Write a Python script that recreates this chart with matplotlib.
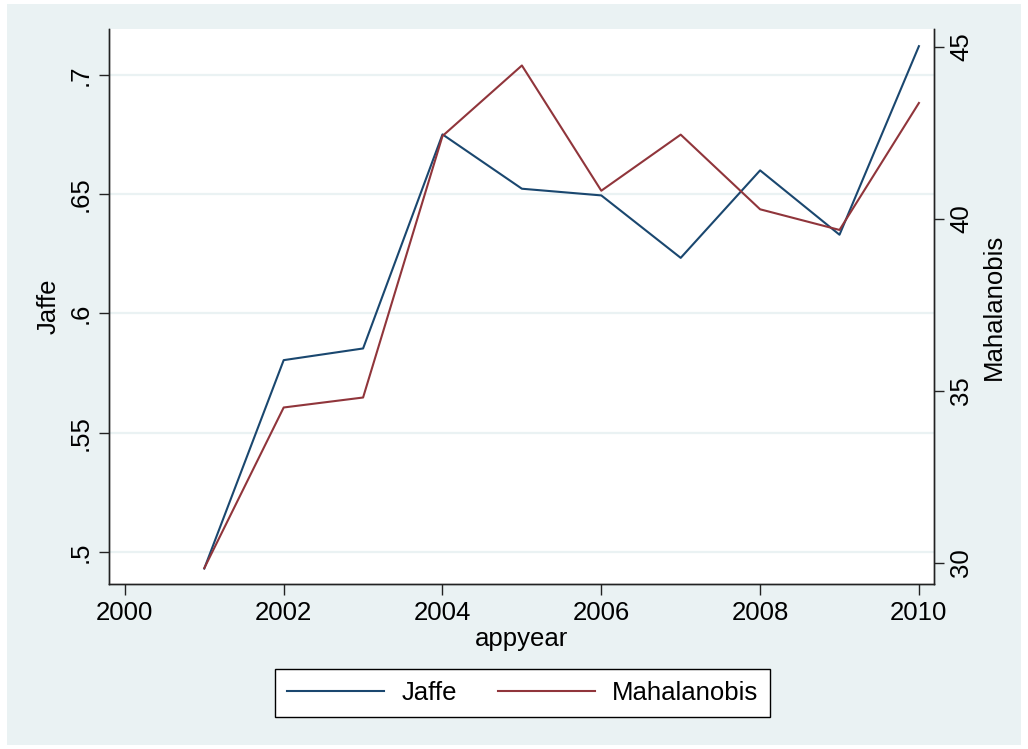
import numpy as np
import matplotlib
matplotlib.use("Agg")
import matplotlib.pyplot as plt
from matplotlib.patches import Rectangle

# data
years = [2001, 2002, 2003, 2004, 2005, 2006, 2007, 2008, 2009, 2010]
jaffe = [0.4930, 0.5804, 0.5853, 0.6751, 0.6523, 0.6495, 0.6233, 0.6600, 0.6330, 0.7121]
mahalanobis = [29.84, 34.51, 34.80, 42.40, 44.45, 40.81, 42.44, 40.27, 39.67, 43.36]

x_ticks = [2000, 2002, 2004, 2006, 2008, 2010]
left_ticks = [0.5, 0.55, 0.6, 0.65, 0.7]
left_labels = ['.5', '.55', '.6', '.65', '.7']
right_ticks = [30, 35, 40, 45]

navy = '#1a476f'
maroon = '#90353b'
bg = '#eaf2f3'

plt.rcParams['font.family'] = ['Liberation Sans', 'DejaVu Sans']
fs = 18.5

W, H = 1028, 749
fig = plt.figure(figsize=(W / 100, H / 100), dpi=100)
fig.patch.set_facecolor('white')
fig.patches.append(Rectangle((7 / W, 4 / H), (1021 - 7) / W, (745 - 4) / H,
                             transform=fig.transFigure, facecolor=bg,
                             edgecolor='none', zorder=-10))

ax = fig.add_axes([109 / W, 1 - 584 / H, (934 - 109) / W, (584 - 29) / H])
ax.set_facecolor('white')
ax2 = ax.twinx()

l1, = ax.plot(years, jaffe, color=navy, lw=1.5, label='Jaffe')
l2, = ax2.plot(years, mahalanobis, color=maroon, lw=1.5, label='Mahalanobis')

ax.set_xlim(1999.8, 2010.19)
ax.set_ylim(0.4865, 0.7193)
ax2.set_ylim(29.38, 45.51)

ax.set_xticks(x_ticks)
ax.set_xticklabels([str(v) for v in x_ticks], fontsize=fs)
ax.set_yticks(left_ticks)
ax.set_yticklabels(left_labels, fontsize=fs, rotation=90, va='center')
ax2.set_yticks(right_ticks)
ax2.set_yticklabels([str(v) for v in right_ticks], fontsize=fs, rotation=90, va='center')

ax.grid(axis='y', color=bg, lw=1.6)
ax.set_axisbelow(True)

for a in (ax, ax2):
    a.spines['top'].set_visible(False)
    for s in ('left', 'right', 'bottom'):
        a.spines[s].set_linewidth(1.0)
        a.spines[s].set_color('#222222')
ax.tick_params(axis='x', length=8, width=1, pad=4, color='#222222')
ax.tick_params(axis='y', length=7.5, width=1, pad=4, color='#222222')
ax2.tick_params(axis='y', length=7, width=1, pad=4, color='#222222')

ax.set_xlabel('appyear', fontsize=fs, labelpad=2)
ax.set_ylabel('Jaffe', fontsize=fs, labelpad=6)
ax2.set_ylabel('Mahalanobis', fontsize=fs, labelpad=6)

leg = fig.legend(handles=[l1, l2], loc='center', ncol=2,
                 bbox_to_anchor=(522.6 / W, 1 - 693 / H), fontsize=fs,
                 handlelength=3.8, handletextpad=0.65, columnspacing=1.6,
                 fancybox=False, framealpha=1, borderpad=0.45)
leg.get_frame().set_edgecolor('black')
leg.get_frame().set_linewidth(1.0)

fig.savefig('out.png', dpi=100, facecolor=fig.get_facecolor())
